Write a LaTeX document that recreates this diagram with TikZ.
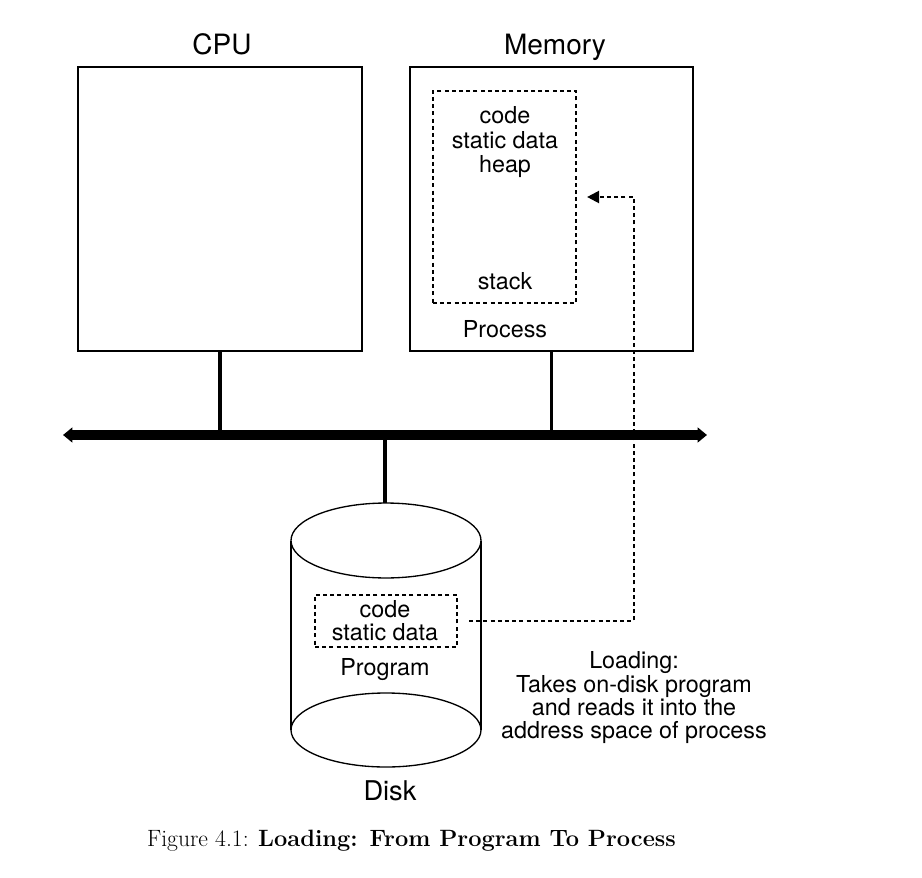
\documentclass[tikz,border=0pt]{standalone}
\usepackage{fontspec}
\newfontfamily\hv{TeX Gyre Heros}
\usetikzlibrary{arrows.meta}
\begin{document}
\begin{tikzpicture}[x=0.75pt,y=-0.75pt,
  box/.style={draw, line width=1.5pt, minimum width=213pt, minimum height=213pt, inner sep=0pt},
  dbox/.style={draw, line width=1.6pt, dash pattern=on 3pt off 2.4pt, inner sep=0pt},
  lbl/.style={font=\hv\fontsize{17.5}{18}\selectfont, anchor=base, inner sep=0pt},
  big/.style={font=\hv\fontsize{21}{24}\selectfont, anchor=base, inner sep=0pt},
  conn/.style={line width=2.3pt},
  bus/.style={line width=7pt, {Triangle[length=7pt,width=11pt]}-{Triangle[length=7pt,width=11pt]}},
  load/.style={line width=1.6pt, dash pattern=on 3pt off 2.4pt, -{Triangle[length=9pt,width=9pt]}},
  cyl/.style={line width=1pt}
]
\useasboundingbox (0,0) rectangle (922,878);

% boxes
\node[box] (cpu) at (220,209) {};
\node[box, minimum width=212.25pt] (mem) at (551.5,209) {};
\node[big] (cpul) at (222,54) {CPU};
\node[big] (meml) at (555,54) {Memory};

% process
\node[dbox, minimum width=107.25pt, minimum height=159pt] (proc) at (504.5,197) {};
\node[lbl] (pc) at (505,123) {code};
\node[lbl] (ps) at (505,148) {static data};
\node[lbl] (ph) at (505,172) {heap};
\node[lbl] (pst) at (505,289) {stack};
\node[lbl] (pl) at (505,337) {Process};

% bus
\coordinate (busL) at (63,435);
\coordinate (busR) at (707,435);
\coordinate (disktop) at (385,503);
\draw[conn] (cpu.south) -- (cpu.south |- busL);
\draw[conn] (mem.south) -- (mem.south |- busL);
\draw[conn] (disktop) -- (disktop |- busL);
\draw[bus] (busL) -- (busR);

% disk
\draw[cyl] (291,540.5) -- (291,730);
\draw[cyl] (481,540.5) -- (481,730);
\draw[cyl] (386,540.5) ellipse [x radius=71.25pt, y radius=28.1pt];
\draw[cyl] (386,730) ellipse [x radius=71.25pt, y radius=27.75pt];
\node[dbox, minimum width=106.5pt, minimum height=39pt] (prog) at (386,621) {};
\node[lbl] (gc) at (385,617) {code};
\node[lbl] (gs) at (385,640) {static data};
\node[lbl] (gl) at (385,675) {Program};
\node[font=\hv\fontsize{20.4}{24}\selectfont, anchor=base, inner sep=0pt] (diskl) at (390,800) {Disk};

% loading
\coordinate (bend) at (634,197);
\draw[load] ([xshift=8.25pt]prog.east) -| (bend) -- ([xshift=7.5pt]proc.east);
\node[lbl] (l1) at (634,668) {Loading:};
\node[lbl] (l2) at (634,692) {Takes on-disk program};
\node[lbl] (l3) at (634,715) {and reads it into the};
\node[lbl] (l4) at (634,738) {address space of process};

% caption
\node[anchor=base, inner sep=0pt, font=\fontsize{17.7}{21}\selectfont] (cap) at (411.5,846) {Figure 4.1: \textbf{Loading: From Program To Process}};
\end{tikzpicture}
\end{document}
